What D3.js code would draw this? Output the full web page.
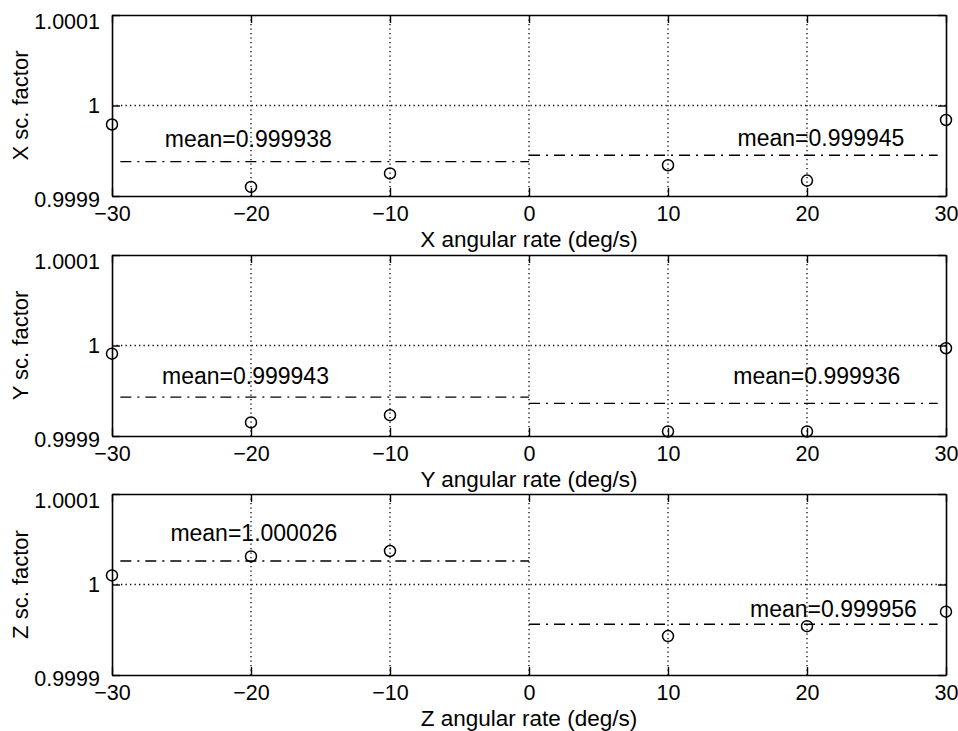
<!DOCTYPE html>
<html>
<head>
<meta charset="utf-8">
<script src="https://cdn.jsdelivr.net/npm/d3@7"></script>
<style>
  body { margin: 0; background: #fff; }
  svg { display: block; }
  text { font-family: "Liberation Sans", Arial, Helvetica, sans-serif; fill: #000; }
</style>
</head>
<body>
<div id="chart"></div>
<script>
// angular rates (deg/s)
const rates = [-30, -20, -10, 10, 20, 30];

// scale factor per axis
const xScaleFactor = [0.999979, 0.999910, 0.999925, 0.999934, 0.999917, 0.999984];
const yScaleFactor = [0.999991, 0.999915, 0.999923, 0.999905, 0.999905, 0.999997];
const zScaleFactor = [1.000010, 1.000031, 1.000037, 0.999943, 0.999954, 0.999970];

// means for negative / positive rates
const xMeans = [0.999938, 0.999945];
const yMeans = [0.999943, 0.999936];
const zMeans = [1.000026, 0.999956];

// mean label anchors [rate, scale factor], left then right
const xMeanLabelAt = [[-26.2, 0.999954], [15.0, 0.999955]];
const yMeanLabelAt = [[-26.4, 0.999958], [14.7, 0.999957]];
const zMeanLabelAt = [[-25.8, 1.0000486], [15.9, 0.9999637]];

const xTicks = [-30, -20, -10, 0, 10, 20, 30];
const yTicks = [0.9999, 1, 1.0001];
const yTickLabels = ["0.9999", "1", "1.0001"];

const axisNames = ["X", "Y", "Z"];

const W = 958, H = 731;
const left = 112, right = 946;
const panelTops = [15, 255, 494];
const panelH = 181;

const svg = d3.select("#chart").append("svg")
    .attr("width", W)
    .attr("height", H);

const panels = [
    { name: axisNames[0], vals: xScaleFactor, means: xMeans, labelAt: xMeanLabelAt },
    { name: axisNames[1], vals: yScaleFactor, means: yMeans, labelAt: yMeanLabelAt },
    { name: axisNames[2], vals: zScaleFactor, means: zMeans, labelAt: zMeanLabelAt }
];

panels.forEach((p, i) => {
    const top = panelTops[i];
    const bottom = top + panelH;

    const x = d3.scaleLinear().domain([-30, 30]).range([left, right]);
    const y = d3.scaleLinear().domain([0.9999, 1.0001]).range([bottom, top]);

    const g = svg.append("g");

    // dotted grid
    g.selectAll(".vgrid")
        .data(xTicks.filter(t => t > -30 && t < 30))
        .enter().append("line")
        .attr("x1", d => x(d)).attr("x2", d => x(d))
        .attr("y1", top).attr("y2", bottom)
        .attr("stroke", "#000")
        .attr("stroke-width", 1.3)
        .attr("stroke-dasharray", "1.3,3.2");
    g.append("line")
        .attr("x1", left).attr("x2", right)
        .attr("y1", y(1)).attr("y2", y(1))
        .attr("stroke", "#000")
        .attr("stroke-width", 1.3)
        .attr("stroke-dasharray", "1.3,3.2");

    // axes, ticks pointing inward
    const fmtY = d => yTickLabels[yTicks.indexOf(d)];
    const bottomAxis = d3.axisBottom(x).tickValues(xTicks).tickSizeInner(-8).tickSizeOuter(0).tickPadding(10);
    const topAxis = d3.axisTop(x).tickValues(xTicks).tickSizeInner(-8).tickSizeOuter(0).tickFormat("");
    const leftAxis = d3.axisLeft(y).tickValues(yTicks).tickSizeInner(-8).tickSizeOuter(0).tickPadding(12).tickFormat(fmtY);
    const rightAxis = d3.axisRight(y).tickValues(yTicks).tickSizeInner(-8).tickSizeOuter(0).tickFormat("");

    const axes = [
        g.append("g").attr("transform", `translate(0,${bottom})`).call(bottomAxis),
        g.append("g").attr("transform", `translate(0,${top})`).call(topAxis),
        g.append("g").attr("transform", `translate(${left},0)`).call(leftAxis),
        g.append("g").attr("transform", `translate(${right},0)`).call(rightAxis)
    ];
    axes.forEach(a => {
        a.attr("font-family", null);
        a.select(".domain").attr("stroke", "#000").attr("stroke-width", 1.6);
        a.selectAll(".tick line").attr("stroke", "#000").attr("stroke-width", 1.4);
        a.selectAll(".tick text").attr("font-size", 21.5);
    });
    // outer y labels sit a little low, like the original
    axes[2].selectAll(".tick text")
        .attr("dy", d => d === 1.0001 ? "0.62em" : d === 0.9999 ? "0.5em" : "0.32em");

    // mean lines (dash-dot)
    const segs = [[-29.4, 0, p.means[0]], [0, 29.4, p.means[1]]];
    g.selectAll(".mean")
        .data(segs)
        .enter().append("line")
        .attr("x1", d => x(d[0])).attr("x2", d => x(d[1]))
        .attr("y1", d => y(d[2])).attr("y2", d => y(d[2]))
        .attr("stroke", "#000")
        .attr("stroke-width", 1.4)
        .attr("stroke-dasharray", "11,6,2,6");

    // mean labels
    g.selectAll(".meanlabel")
        .data(p.means)
        .enter().append("text")
        .attr("x", (d, k) => x(p.labelAt[k][0]))
        .attr("y", (d, k) => y(p.labelAt[k][1]))
        .attr("font-size", 23)
        .text(d => "mean=" + d3.format(".6f")(d));

    // data points
    g.selectAll(".pt")
        .data(p.vals)
        .enter().append("circle")
        .attr("cx", (d, k) => x(rates[k]))
        .attr("cy", d => y(d))
        .attr("r", 5.5)
        .attr("fill", "none")
        .attr("stroke", "#000")
        .attr("stroke-width", 1.5);

    // axis titles
    g.append("text")
        .attr("x", (left + right) / 2)
        .attr("y", bottom + 51)
        .attr("text-anchor", "middle")
        .attr("font-size", 22.5)
        .text(p.name + " angular rate (deg/s)");

    g.append("text")
        .attr("transform", `translate(28,${(top + bottom) / 2}) rotate(-90)`)
        .attr("text-anchor", "middle")
        .attr("font-size", 22)
        .text(p.name + " sc. factor");
});
</script>
</body>
</html>
